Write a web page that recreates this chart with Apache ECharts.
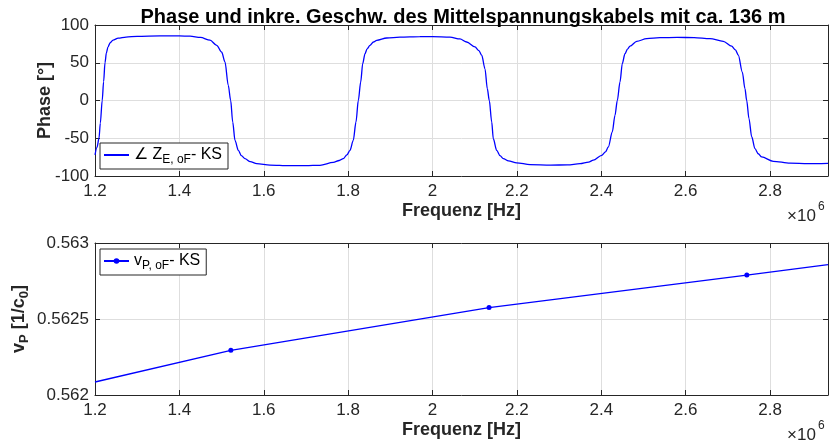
<!DOCTYPE html>
<html>
<head>
<meta charset="utf-8">
<script src="https://cdn.jsdelivr.net/npm/echarts@6/dist/echarts.min.js"></script>
<style>
  html, body { margin: 0; padding: 0; background: #fff; }
  #chart { width: 835px; height: 445px; }
</style>
</head>
<body>
<div id="chart"></div>
<script>
// Frequenz in 1e6 Hz
const phaseFreq = [
  1.2000, 1.2047, 1.2095, 1.2126, 1.2171, 1.2204, 1.2237, 1.2270, 1.2308, 1.2360,
  1.2427, 1.2550, 1.2735, 1.3000, 1.3541, 1.4000, 1.4252, 1.4500, 1.4726, 1.4885,
  1.5003, 1.5081, 1.5159, 1.5216, 1.5264, 1.5318, 1.5397, 1.5470, 1.5555, 1.5680,
  1.5833, 1.6148, 1.6600, 1.7000, 1.7333, 1.7648, 1.7790, 1.7885, 1.7970, 1.8044,
  1.8122, 1.8186, 1.8241, 1.8298, 1.8345, 1.8400, 1.8450, 1.8518, 1.8600, 1.8677,
  1.8914, 1.9229, 1.9700, 2.0000, 2.0414, 2.0650, 2.0810, 2.1007, 2.1100, 2.1166,
  2.1244, 2.1299, 2.1346, 2.1403, 2.1441, 2.1521, 2.1600, 2.1678, 2.1800, 2.1995,
  2.2311, 2.2800, 2.3200, 2.3496, 2.3700, 2.3811, 2.4010, 2.4100, 2.4167, 2.4261,
  2.4325, 2.4380, 2.4444, 2.4498, 2.4562, 2.4620, 2.4681, 2.4840, 2.5077, 2.5392,
  2.5800, 2.6200, 2.6577, 2.6892, 2.7091, 2.7180, 2.7248, 2.7343, 2.7406, 2.7447,
  2.7501, 2.7565, 2.7643, 2.7720, 2.7802, 2.8077, 2.8473, 2.8900, 2.9374
]
const phaseDeg = [
  -72, -62, -50, -30, 0, 25, 50, 63, 71, 76.5,
  80, 82.5, 84, 85, 85.5, 85.5, 85.2, 83.5, 80, 73,
  64, 51, 20, 0, -28.5, -52.7, -66, -73, -77, -81,
  -83.7, -85.5, -86.3, -86.3, -85.8, -82, -79.5, -77, -72, -66,
  -52.7, -28.5, 0, 24.5, 48.7, 62, 68.5, 73, 77.5, 79.7,
  82.8, 84, 84.6, 84.7, 84, 81.5, 77.5, 71, 66, 60,
  42, 15.6, 0, -28.5, -50.6, -66, -73, -77, -80, -82.5,
  -85, -85.5, -85.3, -83.7, -81.5, -79, -72.6, -68, -61.6, -41.7,
  -19.6, 0, 24.5, 48.7, 62, 68, 72, 78.4, 81.9, 83.2,
  83.6, 83.3, 81.9, 78.4, 72, 67, 60, 37.7, 15.6, 0,
  -24, -48, -63.8, -70.5, -74.8, -80.5, -83, -83.7, -83.2
]

const vpFreq = [1.2, 1.522, 2.134, 2.745, 2.9374]
const vpVal = [0.5620855, 0.562294, 0.562575, 0.562789, 0.562858]
const vpMarked = [false, true, true, true, false]

const freqTicks = [1.2, 1.4, 1.6, 1.8, 2.0, 2.2, 2.4, 2.6, 2.8]
const freqMax = 2.9374
const phaseTicks = [-100, -50, 0, 50, 100]
const vpTicks = [0.562, 0.5625, 0.563]

const font = '"Liberation Sans", Arial, Helvetica, sans-serif'
const axisCol = '#262626'
const gridCol = '#dedede'

const step = (t) => +(t[1] - t[0]).toFixed(6)

const freqAxis = (gridIndex, top) => ({
  type: 'value',
  gridIndex,
  position: top ? 'top' : 'bottom',
  min: freqTicks[0],
  max: freqMax,
  interval: step(freqTicks),
  name: top ? '' : 'Frequenz [Hz]',
  nameLocation: 'middle',
  nameGap: 26,
  nameTextStyle: { fontFamily: font, fontSize: 18, fontWeight: 'bold', color: axisCol },
  axisLine: { show: true, onZero: false, lineStyle: { color: axisCol, width: 1 } },
  axisTick: { show: true, inside: true, length: 5, lineStyle: { color: axisCol } },
  axisLabel: {
    show: !top, showMaxLabel: false, margin: 7,
    fontFamily: font, fontSize: 17, color: axisCol,
    formatter: (v) => String(+v.toFixed(1))
  },
  splitLine: { show: !top, lineStyle: { color: gridCol } }
})

const valAxis = (gridIndex, right, ticks, name, nameGap, fmt) => ({
  type: 'value',
  gridIndex,
  position: right ? 'right' : 'left',
  min: ticks[0],
  max: ticks[ticks.length - 1],
  interval: step(ticks),
  name: right ? '' : name,
  nameLocation: 'middle',
  nameGap,
  nameMoveOverlap: false,
  nameRotate: 90,
  nameTextStyle: {
    fontFamily: font, fontSize: 18, fontWeight: 'bold', color: axisCol,
    rich: { sub: { fontFamily: font, fontSize: 13, fontWeight: 'bold', color: axisCol, padding: [10, 0, 0, 0] } }
  },
  axisLine: { show: true, onZero: false, lineStyle: { color: axisCol, width: 1 } },
  axisTick: { show: true, inside: true, length: 5, lineStyle: { color: axisCol } },
  axisLabel: { show: !right, margin: 6, fontFamily: font, fontSize: 17, color: axisCol, formatter: fmt },
  splitLine: { show: !right, lineStyle: { color: gridCol } }
})

const legendBox = (name, top, text, dot) => ({
  data: [{ name, itemStyle: { opacity: dot ? 1 : 0 } }],
  left: 100,
  top,
  padding: [4, 6, 3, 3],
  borderColor: axisCol,
  borderWidth: 1,
  borderRadius: 0,
  backgroundColor: '#fff',
  itemWidth: 25,
  itemHeight: 7,
  formatter: () => text,
  textStyle: {
    fontFamily: font, fontSize: 16, color: '#000',
    rich: { sub: { fontFamily: font, fontSize: 12, color: '#000', padding: [10, 0, 0, 0] } }
  }
})

const chart = echarts.init(document.getElementById('chart'), null, { renderer: 'canvas' })

chart.setOption({
  animation: false,
  backgroundColor: '#fff',
  title: {
    text: 'Phase und inkre. Geschw. des Mittelspannungskabels mit ca. 136 m',
    left: 458,
    textAlign: 'center',
    top: 2,
    textStyle: { fontFamily: font, fontSize: 20, fontWeight: 'bold', color: '#000' }
  },
  legend: [
    legendBox('phase', 143, '∠ Z{sub|E, oF}- KS', false),
    legendBox('vp', 249, 'v{sub|P, oF}- KS', true)
  ],
  grid: [
    { left: 95, top: 25, width: 733, height: 151 },
    { left: 95, top: 243, width: 733, height: 152 }
  ],
  xAxis: [freqAxis(0, false), freqAxis(0, true), freqAxis(1, false), freqAxis(1, true)],
  yAxis: [
    valAxis(0, false, phaseTicks, 'Phase [°]', 41, (v) => String(v)),
    valAxis(0, true, phaseTicks, '', 0),
    valAxis(1, false, vpTicks, 'v{sub|P} [1/c{sub|0}]', 64, (v) => String(+v.toFixed(4))),
    valAxis(1, true, vpTicks, '', 0)
  ],
  graphic: [
    { type: 'text', left: 787, top: 208, style: { text: '×10', font: '17px ' + font, fill: axisCol } },
    { type: 'text', left: 818, top: 201, style: { text: '6', font: '12px ' + font, fill: axisCol } },
    { type: 'text', left: 787, top: 427, style: { text: '×10', font: '17px ' + font, fill: axisCol } },
    { type: 'text', left: 818, top: 420, style: { text: '6', font: '12px ' + font, fill: axisCol } }
  ],
  series: [
    {
      name: 'phase',
      type: 'line',
      xAxisIndex: 0,
      yAxisIndex: 0,
      symbol: 'none',
      smooth: 0.3,
      smoothMonotone: 'x',
      lineStyle: { color: '#0000ff', width: 1.3 },
      itemStyle: { color: '#0000ff' },
      data: phaseFreq.map((f, i) => [f, phaseDeg[i]])
    },
    {
      name: 'vp',
      type: 'line',
      xAxisIndex: 2,
      yAxisIndex: 2,
      symbol: 'circle',
      symbolSize: 5,
      showSymbol: true,
      lineStyle: { color: '#0000ff', width: 1.3 },
      itemStyle: { color: '#0000ff' },
      data: vpFreq.map((f, i) => ({ value: [f, vpVal[i]], symbol: vpMarked[i] ? 'circle' : 'none' }))
    }
  ]
})
</script>
</body>
</html>
